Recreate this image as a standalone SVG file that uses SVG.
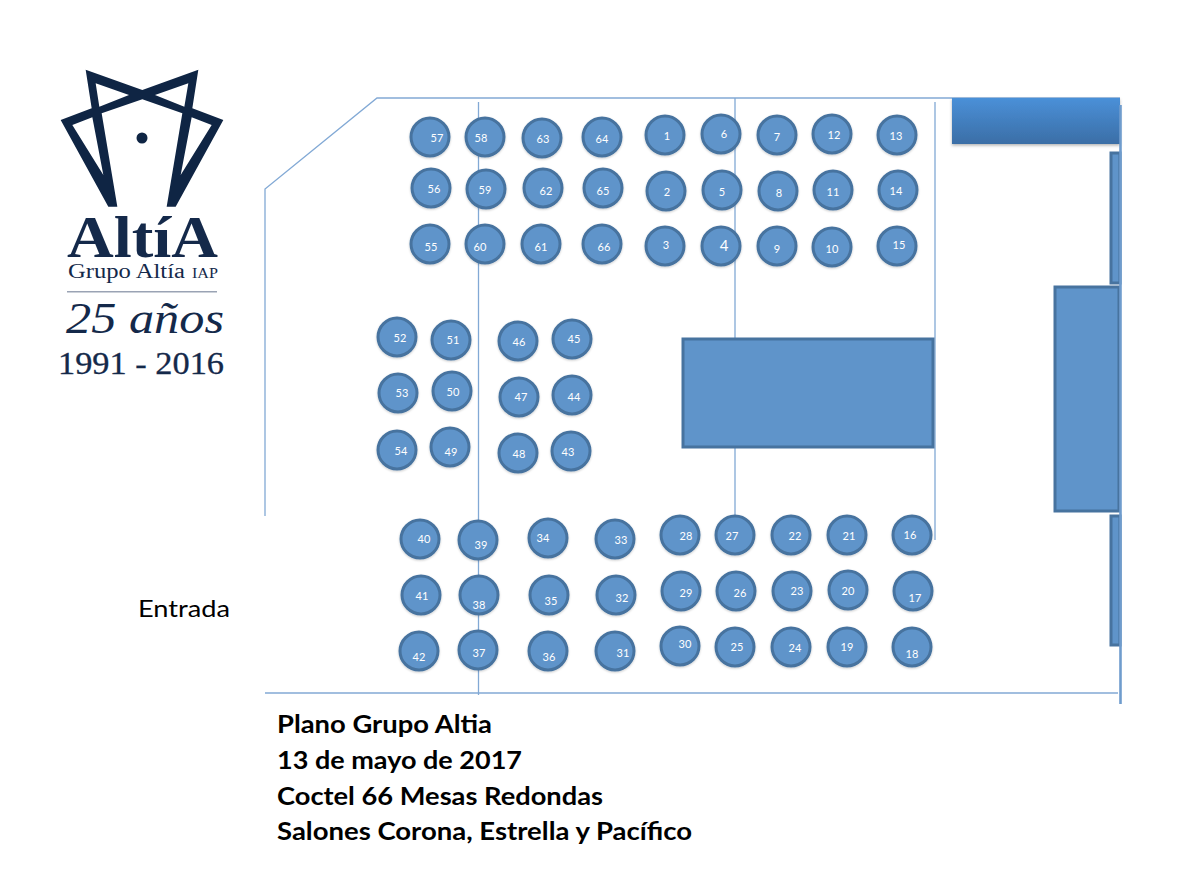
<svg xmlns="http://www.w3.org/2000/svg" width="1180" height="883" viewBox="0 0 1180 883">
<style>
.w{fill:none;stroke:#82a9d5;stroke-width:1.3}
.c{fill:#5f94ca;stroke:#47739f;stroke-width:3;filter:url(#sh)}
.r{fill:#5f94ca;stroke:#47739f;stroke-width:3}
.n{font:11px Lato,"Liberation Sans",sans-serif;fill:#fff;text-anchor:middle;dominant-baseline:central}
.t{font:700 25px Lato,"Liberation Sans",sans-serif;fill:#000}
.s{font-family:"Liberation Serif",serif;fill:#14294a}
</style>
<defs>
<linearGradient id="g" x1="0" y1="0" x2="0" y2="1"><stop offset="0" stop-color="#4a90d8"/><stop offset="1" stop-color="#3b6ea6"/></linearGradient>
<filter id="sh" x="-20%" y="-20%" width="140%" height="140%"><feDropShadow dx="0" dy="1" stdDeviation="1" flood-color="#000" flood-opacity=".2"/></filter>
<filter id="sh2" x="-5%" y="-10%" width="110%" height="130%"><feDropShadow dx="0" dy="1.500" stdDeviation="1.500" flood-color="#000" flood-opacity=".3"/></filter>
</defs>
<rect width="1180" height="883" fill="#fff"/>
<g id="logo">
<path transform="translate(55 65) scale(.33333)" fill="#0f2544" fill-rule="evenodd" d="M92,14L262,75L430,14L412,130L505,165L362,425H335L382,145L262,103L140,145L187,425H160L17,165L110,130ZM122,55L133,125L222,90ZM400,55L388,125L300,90ZM52,180L112,157L145,330ZM470,180L410,157L377,330Z"/>
<circle cx="142" cy="138" r="5.5" fill="#0f2544"/>
<text class="s" x="67" y="257" font-size="59" font-weight="700" textLength="151" lengthAdjust="spacingAndGlyphs">AltíA</text>
<text class="s" x="68" y="278" font-size="20.500" textLength="117" lengthAdjust="spacingAndGlyphs">Grupo Altía</text>
<text class="s" x="192" y="278" font-size="14" textLength="26" lengthAdjust="spacingAndGlyphs">IAP</text>
<rect x="67" y="291" width="150" height="1.500" fill="#9aa3b4"/>
<text class="s" x="66" y="333" font-size="44" font-style="italic" textLength="158" lengthAdjust="spacingAndGlyphs">25 años</text>
<text class="s" x="58" y="374" font-size="31" textLength="166" lengthAdjust="spacingAndGlyphs" stroke="#14294a" stroke-width=".3">1991 - 2016</text>
</g>
<g id="walls">
<path class="w" d="M265,516V189L377,98H1120"/>
<path class="w" d="M265,693H1118M478.500,102V695M735,98V520M935,102V540"/>
</g>
<g id="stage"><rect x="952" y="98" width="168" height="46" fill="url(#g)" filter="url(#sh2)"/></g>
<g id="panel-top"><rect class="r" x="1111" y="153" width="9" height="130"/></g>
<g id="panel-right"><rect class="r" x="1055" y="287" width="64" height="224"/></g>
<g id="panel-bottom"><rect class="r" x="1111" y="516" width="9" height="129"/></g>
<g id="wall-right"><path d="M1120.500,105V704" fill="none" stroke="#6f9ccd" stroke-width="2.600"/></g>
<g id="dance"><rect class="r" x="683" y="339" width="250" height="108"/></g>
<g id="t57"><circle class="c" cx="430" cy="137" r="19"/><text class="n" x="437" y="137">57</text></g>
<g id="t58"><circle class="c" cx="485" cy="137" r="19"/><text class="n" x="481" y="137">58</text></g>
<g id="t63"><circle class="c" cx="542" cy="138" r="19"/><text class="n" x="543" y="138">63</text></g>
<g id="t64"><circle class="c" cx="602" cy="137" r="19"/><text class="n" x="602" y="138">64</text></g>
<g id="t1"><circle class="c" cx="665" cy="135" r="19"/><text class="n" x="667" y="135">1</text></g>
<g id="t6"><circle class="c" cx="721" cy="134" r="19"/><text class="n" x="724" y="133">6</text></g>
<g id="t7"><circle class="c" cx="777" cy="135" r="19"/><text class="n" x="777" y="136">7</text></g>
<g id="t12"><circle class="c" cx="832" cy="134" r="19"/><text class="n" x="834" y="134">12</text></g>
<g id="t13"><circle class="c" cx="897" cy="135" r="19"/><text class="n" x="896" y="135">13</text></g>
<g id="t56"><circle class="c" cx="431" cy="188" r="19"/><text class="n" x="434" y="188">56</text></g>
<g id="t59"><circle class="c" cx="486" cy="189" r="19"/><text class="n" x="485" y="189">59</text></g>
<g id="t62"><circle class="c" cx="543" cy="188" r="19"/><text class="n" x="546" y="190">62</text></g>
<g id="t65"><circle class="c" cx="603" cy="188" r="19"/><text class="n" x="603" y="190">65</text></g>
<g id="t2"><circle class="c" cx="666" cy="191" r="19"/><text class="n" x="667" y="191">2</text></g>
<g id="t5"><circle class="c" cx="722" cy="190" r="19"/><text class="n" x="722" y="191">5</text></g>
<g id="t8"><circle class="c" cx="778" cy="191" r="19"/><text class="n" x="779" y="192">8</text></g>
<g id="t11"><circle class="c" cx="833" cy="190" r="19"/><text class="n" x="833" y="191">11</text></g>
<g id="t14"><circle class="c" cx="898" cy="190" r="19"/><text class="n" x="896" y="190">14</text></g>
<g id="t55"><circle class="c" cx="430" cy="244" r="19"/><text class="n" x="431" y="246">55</text></g>
<g id="t60"><circle class="c" cx="485" cy="244" r="19"/><text class="n" x="480" y="246">60</text></g>
<g id="t61"><circle class="c" cx="541" cy="244" r="19"/><text class="n" x="541" y="246">61</text></g>
<g id="t66"><circle class="c" cx="602" cy="244" r="19"/><text class="n" x="604" y="246">66</text></g>
<g id="t3"><circle class="c" cx="665" cy="246" r="19"/><text class="n" x="666" y="244">3</text></g>
<g id="t4"><circle class="c" cx="721" cy="246" r="19"/><text class="n" x="724" y="245" style="font-size:15px">4</text></g>
<g id="t9"><circle class="c" cx="777" cy="246" r="19"/><text class="n" x="777" y="248">9</text></g>
<g id="t10"><circle class="c" cx="832" cy="247" r="19"/><text class="n" x="832" y="248">10</text></g>
<g id="t15"><circle class="c" cx="897" cy="246" r="19"/><text class="n" x="899" y="244">15</text></g>
<g id="t52"><circle class="c" cx="397" cy="337" r="19"/><text class="n" x="400" y="337">52</text></g>
<g id="t51"><circle class="c" cx="451" cy="340" r="19"/><text class="n" x="453" y="339">51</text></g>
<g id="t46"><circle class="c" cx="518" cy="341" r="19"/><text class="n" x="519" y="341">46</text></g>
<g id="t45"><circle class="c" cx="572" cy="339" r="19"/><text class="n" x="574" y="338">45</text></g>
<g id="t53"><circle class="c" cx="398" cy="393" r="19"/><text class="n" x="402" y="392">53</text></g>
<g id="t50"><circle class="c" cx="452" cy="391" r="19"/><text class="n" x="453" y="391">50</text></g>
<g id="t47"><circle class="c" cx="519" cy="397" r="19"/><text class="n" x="521" y="396">47</text></g>
<g id="t44"><circle class="c" cx="572" cy="395" r="19"/><text class="n" x="574" y="396">44</text></g>
<g id="t54"><circle class="c" cx="397" cy="450" r="19"/><text class="n" x="401" y="450">54</text></g>
<g id="t49"><circle class="c" cx="450" cy="447" r="19"/><text class="n" x="451" y="451">49</text></g>
<g id="t48"><circle class="c" cx="518" cy="453" r="19"/><text class="n" x="519" y="453">48</text></g>
<g id="t43"><circle class="c" cx="571" cy="451" r="19"/><text class="n" x="568" y="451">43</text></g>
<g id="t40"><circle class="c" cx="420" cy="539" r="19"/><text class="n" x="424" y="538">40</text></g>
<g id="t39"><circle class="c" cx="478" cy="540" r="19"/><text class="n" x="481" y="544">39</text></g>
<g id="t34"><circle class="c" cx="548" cy="538" r="19"/><text class="n" x="543" y="537">34</text></g>
<g id="t33"><circle class="c" cx="615" cy="539" r="19"/><text class="n" x="621" y="539">33</text></g>
<g id="t28"><circle class="c" cx="680" cy="535" r="19"/><text class="n" x="686" y="535">28</text></g>
<g id="t27"><circle class="c" cx="735" cy="535" r="19"/><text class="n" x="732" y="535">27</text></g>
<g id="t22"><circle class="c" cx="791" cy="535" r="19"/><text class="n" x="795" y="535">22</text></g>
<g id="t21"><circle class="c" cx="847" cy="535" r="19"/><text class="n" x="849" y="535">21</text></g>
<g id="t16"><circle class="c" cx="912" cy="535" r="19"/><text class="n" x="910" y="534">16</text></g>
<g id="t41"><circle class="c" cx="421" cy="595" r="19"/><text class="n" x="422" y="595">41</text></g>
<g id="t38"><circle class="c" cx="479" cy="595" r="19"/><text class="n" x="479" y="604">38</text></g>
<g id="t35"><circle class="c" cx="549" cy="595" r="19"/><text class="n" x="551" y="600">35</text></g>
<g id="t32"><circle class="c" cx="616" cy="595" r="19"/><text class="n" x="622" y="597">32</text></g>
<g id="t29"><circle class="c" cx="681" cy="591" r="19"/><text class="n" x="686" y="592">29</text></g>
<g id="t26"><circle class="c" cx="736" cy="591" r="19"/><text class="n" x="740" y="592">26</text></g>
<g id="t23"><circle class="c" cx="792" cy="591" r="19"/><text class="n" x="797" y="590">23</text></g>
<g id="t20"><circle class="c" cx="848" cy="590" r="19"/><text class="n" x="848" y="590">20</text></g>
<g id="t17"><circle class="c" cx="913" cy="591" r="19"/><text class="n" x="915" y="597">17</text></g>
<g id="t42"><circle class="c" cx="419" cy="651" r="19"/><text class="n" x="419" y="656">42</text></g>
<g id="t37"><circle class="c" cx="478" cy="650" r="19"/><text class="n" x="479" y="652">37</text></g>
<g id="t36"><circle class="c" cx="548" cy="651" r="19"/><text class="n" x="549" y="656">36</text></g>
<g id="t31"><circle class="c" cx="615" cy="651" r="19"/><text class="n" x="623" y="652">31</text></g>
<g id="t30"><circle class="c" cx="680" cy="646" r="19"/><text class="n" x="685" y="643">30</text></g>
<g id="t25"><circle class="c" cx="735" cy="647" r="19"/><text class="n" x="737" y="646">25</text></g>
<g id="t24"><circle class="c" cx="791" cy="647" r="19"/><text class="n" x="795" y="647">24</text></g>
<g id="t19"><circle class="c" cx="847" cy="647" r="19"/><text class="n" x="847" y="646">19</text></g>
<g id="t18"><circle class="c" cx="912" cy="647" r="19"/><text class="n" x="912" y="653">18</text></g>
<text x="138" y="617" font-family="Lato,'Liberation Sans',sans-serif" font-size="24" fill="#000" textLength="92" lengthAdjust="spacingAndGlyphs">Entrada</text>
<g id="caption">
<text class="t" x="277" y="733" textLength="215" lengthAdjust="spacingAndGlyphs">Plano Grupo Altia</text>
<text class="t" x="277" y="769" textLength="245" lengthAdjust="spacingAndGlyphs">13 de mayo de 2017</text>
<text class="t" x="277" y="805" textLength="326" lengthAdjust="spacingAndGlyphs">Coctel 66 Mesas Redondas</text>
<text class="t" x="277" y="840" textLength="415" lengthAdjust="spacingAndGlyphs">Salones Corona, Estrella y Pacífico</text>
</g>
</svg>
